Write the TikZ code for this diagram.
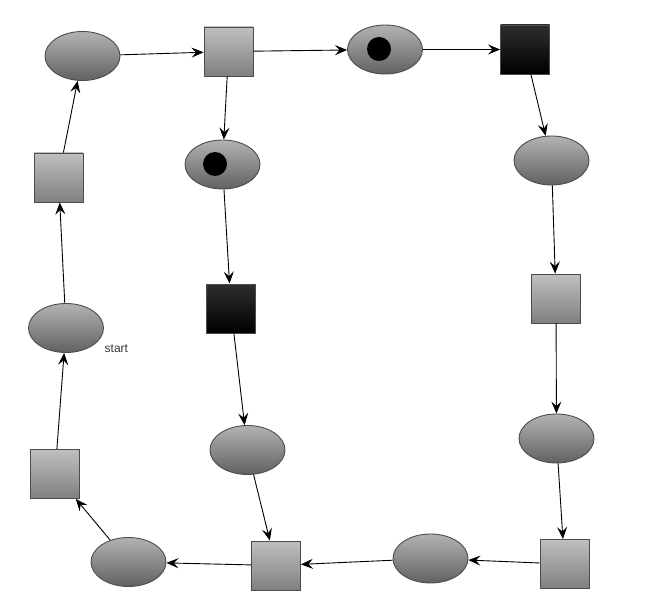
\documentclass[tikz,border=0pt]{standalone}
\usepackage{fontspec}
\setmainfont{Liberation Sans}
\usetikzlibrary{arrows.meta,shapes.geometric}
\begin{document}
\begin{tikzpicture}[x=1pt,y=-1pt,
  place/.style={ellipse,draw=black!70,line width=0.9pt,minimum width=75pt,minimum height=49pt,inner sep=0pt,top color=black!30,bottom color=black!62},
  trans/.style={rectangle,draw=black!70,line width=0.9pt,minimum size=49pt,inner sep=0pt,top color=black!25,bottom color=black!50},
  btrans/.style={rectangle,draw=black!70,line width=0.9pt,minimum size=49pt,inner sep=0pt,top color=black!82,bottom color=black},
  token/.style={circle,fill=black,minimum size=24pt,inner sep=0pt},
  arc/.style={draw=black,line width=0.9pt,-{Stealth[length=12pt,width=10pt,inset=4.5pt]}}]
\useasboundingbox (0,0) rectangle (652,609);
\node[place] (E1) at (82.5,56) {};
\node[trans] (S1) at (228.5,51.5) {};
\node[place] (E2) at (385,49.5) {};
\node[token] (T2) at (379,49) {};
\node[btrans] (S2) at (525,49.5) {};
\node[place] (E3) at (551.5,160.5) {};
\node[trans] (S3) at (556,298.5) {};
\node[place] (E4) at (556.5,438.5) {};
\node[trans] (S4) at (564.5,564) {};
\node[place] (E5) at (430.5,558.5) {};
\node[trans] (S5) at (276,565.5) {};
\node[place] (E6) at (128.5,562) {};
\node[trans] (S6) at (55,474) {};
\node[place] (E7) at (66,328) {};
\node[trans] (S7) at (58.5,177.5) {};
\node[place] (E8) at (222.5,164.5) {};
\node[token] (T8) at (215,164) {};
\node[btrans] (S8) at (231,308.5) {};
\node[place] (E9) at (247.5,450) {};
\node[anchor=west,inner sep=0pt,text=black!80,font=\fontsize{12}{14}\selectfont] (start) at (104.5,349) {start};
\path[arc] (E1) -- (S1);
\path[arc] (S1) -- (E2);
\path[arc] (E2) -- (S2);
\path[arc] (S2) -- (E3);
\path[arc] (E3) -- (S3);
\path[arc] (S3) -- (E4);
\path[arc] (E4) -- (S4);
\path[arc] (S4) -- (E5);
\path[arc] (E5) -- (S5);
\path[arc] (S5) -- (E6);
\path[arc] (E6) -- (S6);
\path[arc] (S6) -- (E7);
\path[arc] (E7) -- (S7);
\path[arc] (S7) -- (E1);
\path[arc] (S1) -- (E8);
\path[arc] (E8) -- (S8);
\path[arc] (S8) -- (E9);
\path[arc] (E9) -- (S5);
\end{tikzpicture}
\end{document}
